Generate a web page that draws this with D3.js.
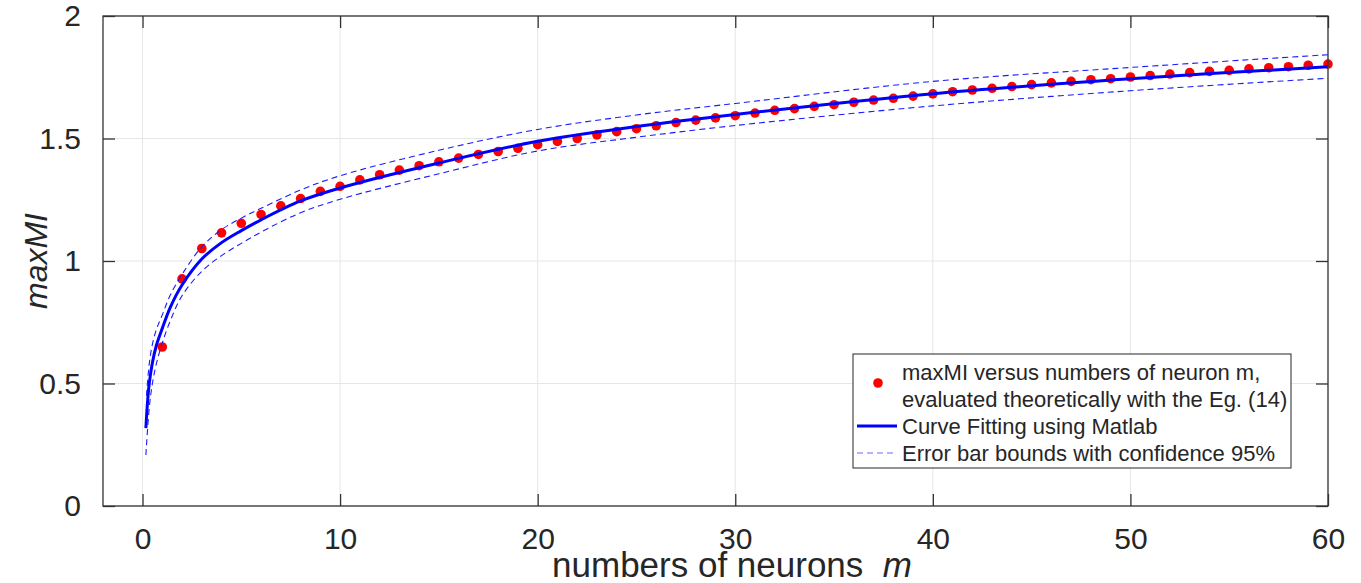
<!DOCTYPE html>
<html>
<head>
<meta charset="utf-8">
<script src="https://cdn.jsdelivr.net/npm/d3@7"></script>
<style>
  body { margin: 0; background: #fff; }
  text { font-family: "Liberation Sans", Arial, sans-serif; fill: #262626; }
</style>
</head>
<body>
<div id="chart"></div>
<script>
// theoretical maxMI for m = 1..60
const neurons = [1, 2, 3, 4, 5, 6, 7, 8, 9, 10, 11, 12, 13, 14, 15, 16, 17, 18, 19, 20,
  21, 22, 23, 24, 25, 26, 27, 28, 29, 30, 31, 32, 33, 34, 35, 36, 37, 38, 39, 40,
  41, 42, 43, 44, 45, 46, 47, 48, 49, 50, 51, 52, 53, 54, 55, 56, 57, 58, 59, 60];
const maxMI = [0.649, 0.927, 1.051, 1.115, 1.154, 1.190, 1.225, 1.255, 1.284, 1.305,
  1.331, 1.352, 1.371, 1.389, 1.405, 1.420, 1.435, 1.447, 1.460, 1.475,
  1.488, 1.500, 1.515, 1.528, 1.540, 1.552, 1.565, 1.575, 1.584, 1.593,
  1.604, 1.615, 1.622, 1.631, 1.638, 1.648, 1.657, 1.664, 1.673, 1.682,
  1.691, 1.698, 1.705, 1.712, 1.720, 1.727, 1.733, 1.740, 1.744, 1.751,
  1.757, 1.763, 1.769, 1.774, 1.778, 1.784, 1.789, 1.793, 1.799, 1.804];

// fitted curve
const fitM = [0.17, 0.25, 0.34, 0.5, 0.7, 1, 1.4, 2, 3, 4, 5, 6, 8, 10, 15, 20, 25, 30, 40, 50, 60];
const fitY = [0.318, 0.42, 0.50, 0.585, 0.655, 0.725, 0.81, 0.902, 1.008, 1.075, 1.124, 1.168,
  1.245, 1.298, 1.400, 1.489, 1.549, 1.598, 1.683, 1.744, 1.793];

// 95% bounds
const upperM = [0.2, 0.34, 0.5, 0.7, 1, 1.4, 2, 3, 4, 5, 6, 8, 10, 15, 20, 25, 30, 40, 50, 60];
const upperY = [0.45, 0.58, 0.66, 0.72, 0.78, 0.86, 0.945, 1.058, 1.128, 1.175, 1.215, 1.29,
  1.348, 1.452, 1.537, 1.596, 1.643, 1.733, 1.79, 1.842];
const lowerM = [0.17, 0.34, 0.5, 0.7, 1, 1.4, 2, 3, 4, 5, 6, 8, 10, 15, 20, 25, 30, 40, 50, 60];
const lowerY = [0.208, 0.40, 0.50, 0.58, 0.665, 0.755, 0.858, 0.958, 1.022, 1.072, 1.118, 1.197,
  1.252, 1.356, 1.449, 1.505, 1.553, 1.633, 1.695, 1.746];

const xTicks = [0, 10, 20, 30, 40, 50, 60];
const yTicks = [0, 0.5, 1, 1.5, 2];

const legendLines = [
  "maxMI versus numbers of neuron m,",
  "evaluated theoretically with the Eg. (14)",
  "Curve Fitting using Matlab",
  "Error bar bounds with confidence 95%"
];

const width = 1361, height = 583;
const margin = {top: 16, right: 33, bottom: 77, left: 103};
const w = width - margin.left - margin.right,
    h = height - margin.top - margin.bottom;

const x = d3.scaleLinear().domain([-2, 60]).range([0, w]);
const y = d3.scaleLinear().domain([0, 2]).range([h, 0]);

const svg = d3.select("#chart").append("svg")
    .attr("width", width)
    .attr("height", height);

const g = svg.append("g")
    .attr("transform", "translate(" + margin.left + "," + margin.top + ")");

// grid
g.append("g").selectAll("line")
    .data(xTicks)
  .enter().append("line")
    .attr("x1", d => x(d)).attr("x2", d => x(d))
    .attr("y1", 0).attr("y2", h)
    .attr("stroke", "#e6e6e6").attr("stroke-width", 1);
g.append("g").selectAll("line")
    .data(yTicks)
  .enter().append("line")
    .attr("y1", d => y(d)).attr("y2", d => y(d))
    .attr("x1", 0).attr("x2", w)
    .attr("stroke", "#e6e6e6").attr("stroke-width", 1);

const line = d3.line()
    .x(d => x(d[0]))
    .y(d => y(d[1]))
    .curve(d3.curveCatmullRom.alpha(0.5));

// data points
g.append("g").selectAll("circle")
    .data(neurons.map((m, i) => [m, maxMI[i]]))
  .enter().append("circle")
    .attr("cx", d => x(d[0]))
    .attr("cy", d => y(d[1]))
    .attr("r", 4.8)
    .attr("fill", "#ff0000");

// fit
g.append("path")
    .datum(fitM.map((m, i) => [m, fitY[i]]))
    .attr("d", line)
    .attr("fill", "none")
    .attr("stroke", "#0000ff")
    .attr("stroke-width", 3);

// bounds
[[upperM, upperY], [lowerM, lowerY]].forEach(function(b) {
  g.append("path")
      .datum(b[0].map((m, i) => [m, b[1][i]]))
      .attr("d", line)
      .attr("fill", "none")
      .attr("stroke", "#1a1aff")
      .attr("stroke-width", 1.1)
      .attr("stroke-dasharray", "6,4");
});

// axes (box with inward ticks on all sides)
const axisColor = "#333";
const tickLen = 12;
g.append("g").attr("transform", "translate(0," + h + ")")
    .call(d3.axisBottom(x).tickValues(xTicks).tickSize(-tickLen).tickPadding(tickLen + 10))
    .call(a => a.select(".domain").remove());
g.append("g")
    .call(d3.axisTop(x).tickValues(xTicks).tickSize(-tickLen).tickFormat(""))
    .call(a => a.select(".domain").remove());
g.append("g")
    .call(d3.axisLeft(y).tickValues(yTicks).tickSize(-tickLen).tickPadding(tickLen + 10)
      .tickFormat(d3.format("")))
    .call(a => a.select(".domain").remove());
g.append("g").attr("transform", "translate(" + w + ",0)")
    .call(d3.axisRight(y).tickValues(yTicks).tickSize(-tickLen).tickFormat(""))
    .call(a => a.select(".domain").remove());

g.selectAll(".tick line").attr("stroke", axisColor).attr("stroke-width", 1.3);
g.selectAll(".tick text")
    .attr("fill", "#262626")
    .style("font-size", "30px")
    .style("font-family", "'Liberation Sans', Arial, sans-serif");

g.append("rect")
    .attr("width", w).attr("height", h)
    .attr("fill", "none")
    .attr("stroke", axisColor)
    .attr("stroke-width", 1.3);

// axis labels
const xl = svg.append("text")
    .attr("x", 732)
    .attr("y", 577)
    .attr("text-anchor", "middle")
    .style("font-size", "35px");
xl.append("tspan").text("numbers of neurons\u00a0\u00a0");
xl.append("tspan").attr("font-style", "italic").text("m");

svg.append("text")
    .attr("transform", "translate(47," + (margin.top + h / 2) + ") rotate(-90)")
    .attr("text-anchor", "middle")
    .attr("font-style", "italic")
    .style("font-size", "32px")
    .text("maxMI");

// legend
const lg = svg.append("g").attr("transform", "translate(853,354)");
lg.append("rect")
    .attr("width", 438).attr("height", 114)
    .attr("fill", "#fff")
    .attr("stroke", "#262626")
    .attr("stroke-width", 1);

const lineY = [18, 45, 72, 99];
lg.selectAll("text.leg")
    .data(legendLines)
  .enter().append("text")
    .attr("class", "leg")
    .attr("x", 49)
    .attr("y", (d, i) => lineY[i])
    .attr("dy", "0.35em")
    .style("font-size", "22px")
    .attr("fill", "#000")
    .text(d => d);

lg.append("circle")
    .attr("cx", 25).attr("cy", 29).attr("r", 4.8).attr("fill", "#ff0000");
lg.append("line")
    .attr("x1", 4).attr("x2", 44).attr("y1", lineY[2]).attr("y2", lineY[2])
    .attr("stroke", "#0000ff").attr("stroke-width", 3);
lg.append("line")
    .attr("x1", 4).attr("x2", 44).attr("y1", lineY[3]).attr("y2", lineY[3])
    .attr("stroke", "#6b6bff").attr("stroke-width", 1.1)
    .attr("stroke-dasharray", "6,4");
</script>
</body>
</html>
